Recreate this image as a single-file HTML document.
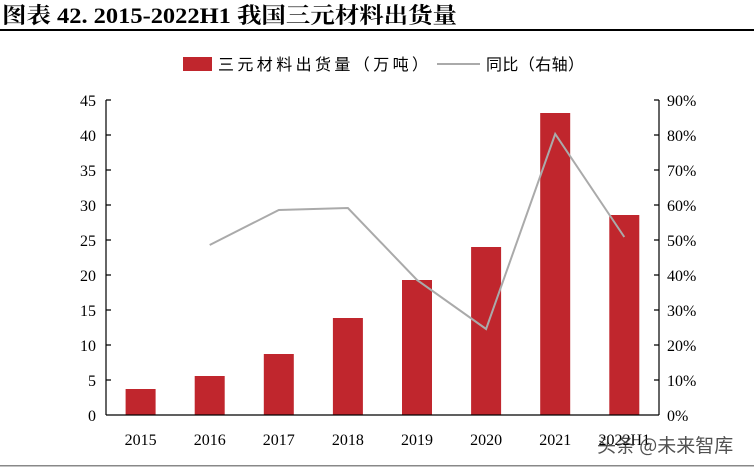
<!DOCTYPE html>
<html><head><meta charset="utf-8"><style>
body{margin:0;background:#fff;}
</style></head><body>
<svg width="754" height="468" xmlns="http://www.w3.org/2000/svg" style="display:block">
<text x="2" y="23" font-family="Liberation Serif, Noto Serif CJK SC, serif" font-weight="bold" font-size="22" fill="#000" textLength="455" lengthAdjust="spacingAndGlyphs">图表 42. 2015-2022H1 我国三元材料出货量</text>
<rect x="0" y="29" width="754" height="2" fill="#000"/>
<rect x="0" y="465" width="754" height="1.5" fill="#888"/>
<rect x="183" y="57" width="29" height="14" fill="#C0262D"/>
<text x="218" y="70" font-family="Liberation Serif, Noto Sans CJK SC, sans-serif" font-size="16" fill="#000" textLength="210" lengthAdjust="spacing">三元材料出货量（万吨）</text>
<line x1="437" y1="64" x2="480" y2="64" stroke="#aaa" stroke-width="2"/>
<text x="486" y="70" font-family="Liberation Serif, Noto Sans CJK SC, sans-serif" font-size="16" fill="#000" textLength="98" lengthAdjust="spacing">同比（右轴）</text>
<g font-family="Liberation Serif, serif" font-size="16" fill="#000">
<g text-anchor="end">
<text x="96" y="421">0</text><text x="96" y="386">5</text><text x="96" y="351">10</text><text x="96" y="316">15</text><text x="96" y="281">20</text><text x="96" y="246">25</text><text x="96" y="211">30</text><text x="96" y="176">35</text><text x="96" y="141">40</text><text x="96" y="106">45</text>
</g>
<g>
<text x="667" y="421">0%</text><text x="667" y="386">10%</text><text x="667" y="351">20%</text><text x="667" y="316">30%</text><text x="667" y="281">40%</text><text x="667" y="246">50%</text><text x="667" y="211">60%</text><text x="667" y="176">70%</text><text x="667" y="141">80%</text><text x="667" y="106">90%</text>
</g>
<g text-anchor="middle">
<text x="140.6" y="445">2015</text><text x="209.7" y="445">2016</text><text x="278.8" y="445">2017</text><text x="347.9" y="445">2018</text><text x="417" y="445">2019</text><text x="486.1" y="445">2020</text><text x="555.2" y="445">2021</text><text x="624.3" y="445">2022H1</text>
</g>
</g>
<g fill="#C0262D">
<rect x="125.6" y="389" width="30" height="26"/>
<rect x="194.7" y="376" width="30" height="39"/>
<rect x="263.8" y="354" width="30" height="61"/>
<rect x="332.9" y="318" width="30" height="97"/>
<rect x="402" y="280" width="30" height="135"/>
<rect x="471.1" y="247" width="30" height="168"/>
<rect x="540.2" y="113" width="30" height="302"/>
<rect x="609.3" y="215" width="30" height="200"/>
</g>
<g stroke="#000" stroke-width="1.2" fill="none">
<line x1="106" y1="100" x2="106" y2="415"/>
<line x1="659" y1="100" x2="659" y2="415"/>
<line x1="106" y1="415" x2="659" y2="415"/>
<path d="M106 100h5M106 135h5M106 170h5M106 205h5M106 240h5M106 275h5M106 310h5M106 345h5M106 380h5M659 100h-5M659 135h-5M659 170h-5M659 205h-5M659 240h-5M659 275h-5M659 310h-5M659 345h-5M659 380h-5"/>
</g>
<polyline points="209.7,245 278.8,210 347.9,208 417,280 486.1,329 555.2,134 624.3,237" fill="none" stroke="#aaa" stroke-width="2"/>
<text x="597" y="452" font-family="Noto Sans CJK SC, sans-serif" font-size="19" fill="#333" opacity="0.85">头条 @未来智库</text>
</svg>
</body></html>
